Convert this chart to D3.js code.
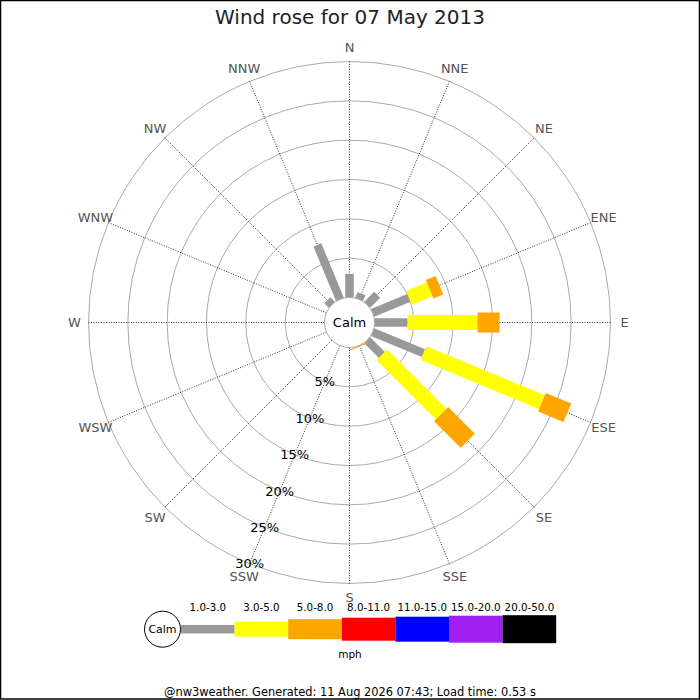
<!DOCTYPE html>
<html>
<head>
<meta charset="utf-8">
<script src="https://cdn.jsdelivr.net/npm/d3@7"></script>
<style>
  body { margin: 0; background: #fff; }
  text { font-family: "DejaVu Sans", sans-serif; }
</style>
</head>
<body>
<div id="vis"></div>
<script>
// data
const directions = ["N","NNE","NE","ENE","E","ESE","SE","SSE","S","SSW","SW","WSW","W","WNW","NW","NNW"];
const bands = ["1.0-3.0","3.0-5.0","5.0-8.0","8.0-11.0","11.0-15.0","15.0-20.0","20.0-50.0"];
const bandColors = ["#999999","#ffff00","#ffa500","#ff0000","#0000ff","#a020f0","#000000"];
// percent of day per direction, one array per speed band
const band1 = [3.0, 0.8, 1.8, 5.0, 4.2, 7.0, 2.65, 0, 0, 0, 0, 0, 0, 0, 0.8, 7.5];
const band2 = [0, 0, 0, 2.85, 8.9, 16.3, 10.65, 0, 0, 0, 0, 0, 0, 0, 0, 0];
const band3 = [0, 0, 0, 1.35, 2.8, 3.5, 4.8, 0.15, 0, 0, 0, 0, 0, 0, 0, 0];
const band4 = new Array(16).fill(0);
const band5 = new Array(16).fill(0);
const band6 = new Array(16).fill(0);
const band7 = new Array(16).fill(0);
const ringTicks = [5, 10, 15, 20, 25, 30];
const title = "Wind rose for 07 May 2013";
const footer = "@nw3weather. Generated: 11 Aug 2026 07:43; Load time: 0.53 s";

// layout constants
const WIDTH = 700, HEIGHT = 700;
const CX = 349.5, CY = 322.5;
const CALM_R = 25, OUTER_R = 261;
const BAR_W = [8.5, 15, 20, 23, 25, 27, 28];

const svg = d3.select("#vis").append("svg")
  .attr("width", WIDTH).attr("height", HEIGHT);

svg.append("rect")
  .attr("x", 0.5).attr("y", 0.5)
  .attr("width", WIDTH - 1).attr("height", HEIGHT - 1.5)
  .attr("fill", "#fff").attr("stroke", "#000").attr("stroke-width", 1.5);

const r = d3.scaleLinear().domain([0, 30]).range([CALM_R, OUTER_R]);
const ang = d3.scalePoint().domain(directions).range([0, 337.5]);

const g = svg.append("g").attr("transform", `translate(${CX},${CY})`);

// rings
g.selectAll("circle.ring").data(ringTicks).enter().append("circle")
  .attr("class", "ring")
  .attr("r", d => r(d))
  .attr("fill", "none").attr("stroke", "#aaa").attr("stroke-width", 1);

// spokes
const rad = a => (a - 90) * Math.PI / 180;
g.selectAll("line.spoke").data(directions).enter().append("line")
  .attr("x1", d => Math.cos(rad(ang(d))) * CALM_R)
  .attr("y1", d => Math.sin(rad(ang(d))) * CALM_R)
  .attr("x2", d => Math.cos(rad(ang(d))) * r(30))
  .attr("y2", d => Math.sin(rad(ang(d))) * r(30))
  .attr("stroke", "#333").attr("stroke-width", 1)
  .attr("stroke-dasharray", "1,1.5");

// direction labels
g.selectAll("text.dir").data(directions).enter().append("text")
  .attr("x", d => Math.cos(rad(ang(d))) * 275)
  .attr("y", d => Math.sin(rad(ang(d))) * 275)
  .attr("dy", "0.35em")
  .attr("text-anchor", "middle")
  .attr("font-size", 13)
  .attr("fill", "#555")
  .text(d => d);

// stacked bars
const allBands = [band1, band2, band3, band4, band5, band6, band7];
const cum = directions.map(() => 0);
allBands.forEach((vals, bi) => {
  const segs = directions.map((d, i) => {
    const s = { dir: d, start: cum[i], end: cum[i] + vals[i] };
    cum[i] += vals[i];
    return s;
  }).filter(s => s.end > s.start);
  g.selectAll(null).data(segs).enter().append("rect")
    .attr("transform", d => `rotate(${ang(d.dir)})`)
    .attr("x", -BAR_W[bi] / 2)
    .attr("y", d => -r(d.end))
    .attr("width", BAR_W[bi])
    .attr("height", d => Math.max(r(d.end) - r(d.start), 0.8))
    .attr("fill", bandColors[bi]);
});

// calm circle
g.append("circle").attr("r", CALM_R)
  .attr("fill", "#fff").attr("stroke", "#aaa").attr("stroke-width", 1);
g.append("text").attr("text-anchor", "middle").attr("dy", "0.35em")
  .attr("font-size", 13).attr("fill", "#000").text("Calm");

// percent labels along SSW
g.selectAll("text.pct").data(ringTicks).enter().append("text")
  .attr("x", d => Math.cos(rad(ang("SSW"))) * r(d))
  .attr("y", d => Math.sin(rad(ang("SSW"))) * r(d))
  .attr("dy", "0.35em")
  .attr("text-anchor", "middle")
  .attr("font-size", 13).attr("fill", "#000")
  .text(d => d + "%");

// title
svg.append("text").attr("x", 350).attr("y", 24)
  .attr("text-anchor", "middle").attr("font-size", 20).attr("fill", "#222")
  .text(title);

// legend
const LX0 = 181, LW = 53.6, LY = 629.2;
const leg = svg.append("g");
leg.append("circle").attr("cx", 162.5).attr("cy", LY).attr("r", 18)
  .attr("fill", "#fff").attr("stroke", "#000").attr("stroke-width", 1);
leg.append("text").attr("x", 162.5).attr("y", LY).attr("dy", "0.35em")
  .attr("text-anchor", "middle").attr("font-size", 11).text("Calm");
const lx = d3.scaleBand().domain(bands).range([LX0, LX0 + LW * bands.length]);
leg.selectAll("rect.lb").data(bands).enter().append("rect")
  .attr("x", d => lx(d)).attr("width", lx.bandwidth())
  .attr("y", (d, i) => LY - BAR_W[i] / 2).attr("height", (d, i) => BAR_W[i])
  .attr("fill", (d, i) => bandColors[i]);
leg.selectAll("text.lt").data(bands).enter().append("text")
  .attr("x", d => lx(d) + lx.bandwidth() / 2).attr("y", 611)
  .attr("text-anchor", "middle").attr("font-size", 10.3).attr("fill", "#000")
  .text(d => d);
leg.append("text").attr("x", 350).attr("y", 658)
  .attr("text-anchor", "middle").attr("font-size", 10.5).text("mph");

// footer
svg.append("text").attr("x", 350).attr("y", 696)
  .attr("text-anchor", "middle").attr("font-size", 11.4).attr("fill", "#000")
  .text(footer);
</script>
</body>
</html>
